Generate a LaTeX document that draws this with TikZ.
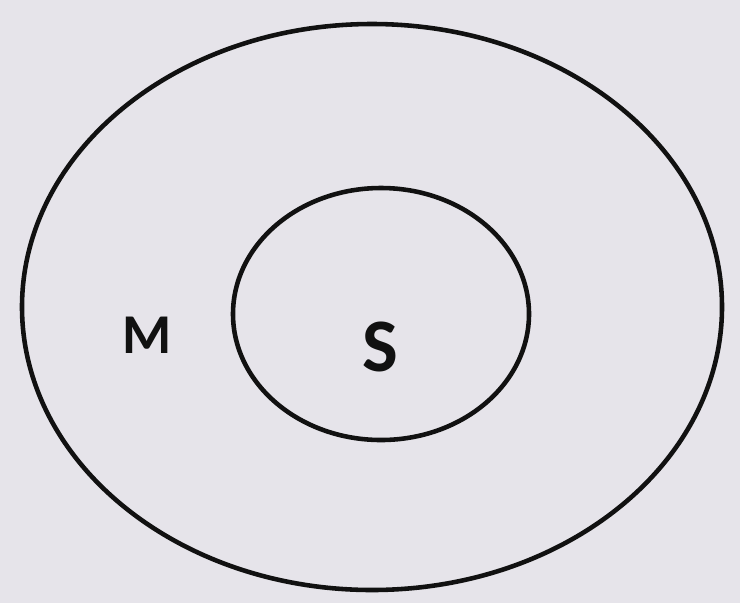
\documentclass[tikz,border=0pt]{standalone}
\usepackage{fontspec}
\setmainfont{Carlito}
\definecolor{vennPaper}{HTML}{E6E4EA}
\definecolor{vennInk}{HTML}{111111}
\tikzset{
    setline/.style={draw=vennInk, line width=2.6pt},
    setlabel/.style={text=vennInk, inner sep=0pt}
}

\begin{document}
\begin{tikzpicture}[x=0.02cm, y=-0.02cm]
            \fill[vennPaper] (0,0) rectangle (740,603);
            \useasboundingbox (0,0) rectangle (740,603);

            \coordinate (outerC) at (372,307);
            \coordinate (innerC) at (381,314);

            \draw[setline] (outerC) ellipse [x radius=350, y radius=283];
            \draw[setline] (innerC) ellipse [x radius=148, y radius=126];

            \node[setlabel, font=\fontsize{32}{36}\selectfont\bfseries] (labelM) at (147,335) {M};
            \node[setlabel, font=\fontsize{43}{48}\selectfont\bfseries] (labelS) at (380,347) {S};
        \end{tikzpicture}
\end{document}
